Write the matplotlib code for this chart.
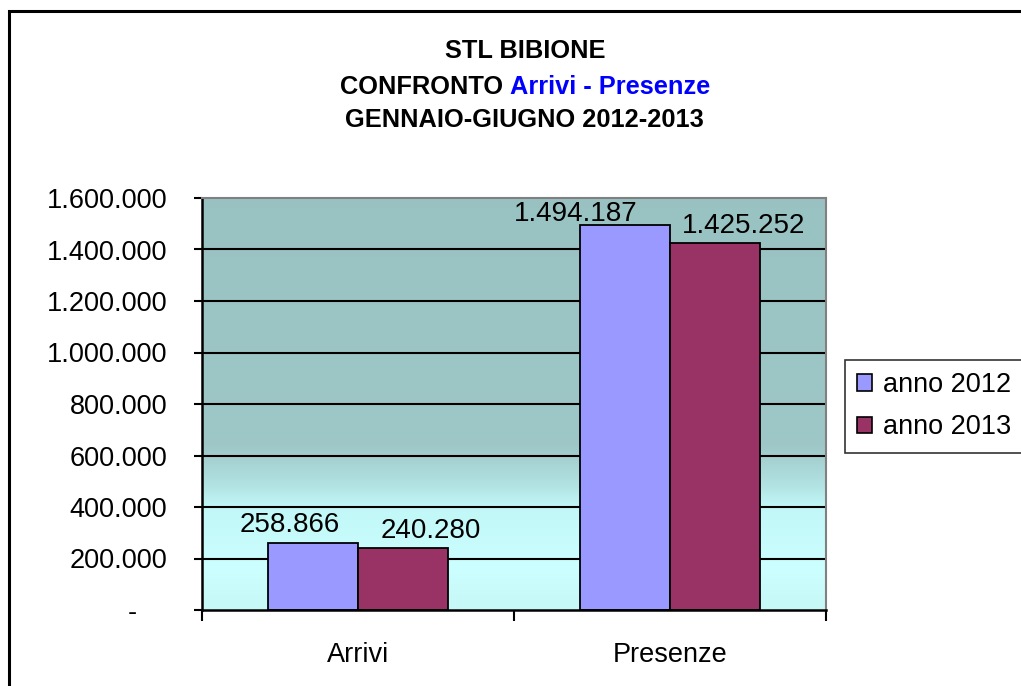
import matplotlib
matplotlib.use("Agg")
import matplotlib.pyplot as plt
import numpy as np
from matplotlib.patches import Rectangle
from matplotlib.colors import LinearSegmentedColormap
from matplotlib.ticker import FuncFormatter, FixedLocator

plt.rcParams['font.family'] = ['Liberation Sans', 'DejaVu Sans']

categories = ["Arrivi", "Presenze"]
series_names = ["anno 2012", "anno 2013"]
values_2012 = [258866, 1494187]
values_2013 = [240280, 1425252]
labels_2012 = ["258.866", "1.494.187"]
labels_2013 = ["240.280", "1.425.252"]
colors = ["#9999FF", "#993366"]

W, H = 1021, 686
FS = 19.5
DFS = 20
TFS = 18.3
fig = plt.figure(figsize=(W / 100, H / 100), dpi=100)
fig.patch.set_facecolor("white")

ax = fig.add_axes([202 / W, 1 - 610 / H, 624 / W, 412 / H])
ymax = 1600000
ax.set_xlim(-0.5, 1.5)
ax.set_ylim(0, ymax)

# gradient background
cmap = LinearSegmentedColormap.from_list("bg", [
    (0.0, (0.78, 0.97, 0.97)),
    (0.10, (0.80, 1.00, 1.00)),
    (0.25, (0.76, 0.97, 0.97)),
    (0.30, (0.70, 0.89, 0.89)),
    (0.40, (0.62, 0.78, 0.78)),
    (1.0, (0.60, 0.76, 0.76)),
])
grad = np.linspace(0, 1, 256).reshape(-1, 1)
ax.imshow(grad, aspect="auto", cmap=cmap, origin="lower",
          extent=(-0.5, 1.5, 0, ymax), zorder=0)

# gridlines
for yv in range(200000, 1600000, 200000):
    ax.axhline(yv, color="black", lw=1.5, zorder=1)

x = np.arange(len(categories))
bw = 0.288
ax.bar(x - bw / 2, values_2012, bw, color=colors[0], edgecolor="black",
       lw=1.3, label=series_names[0], zorder=2)
ax.bar(x + bw / 2, values_2013, bw, color=colors[1], edgecolor="black",
       lw=1.3, label=series_names[1], zorder=2)

# data labels (offsets mimic the reference placement)
offs_2012 = [(-23, 11), (-49, 4)]
offs_2013 = [(28, 10), (29, 10)]
for i in range(len(categories)):
    ax.annotate(labels_2012[i], (x[i] - bw / 2, values_2012[i]),
                xytext=offs_2012[i], textcoords="offset pixels",
                ha="center", va="baseline", fontsize=DFS, zorder=3)
    ax.annotate(labels_2013[i], (x[i] + bw / 2, values_2013[i]),
                xytext=offs_2013[i], textcoords="offset pixels",
                ha="center", va="baseline", fontsize=DFS, zorder=3)

# axes styling
for s in ["top", "right"]:
    ax.spines[s].set_color("#808080")
    ax.spines[s].set_linewidth(1.5)
for s in ["left", "bottom"]:
    ax.spines[s].set_color("black")
    ax.spines[s].set_linewidth(1.8)

yticks = list(range(0, 1600001, 200000))
ax.set_yticks(yticks)
ax.yaxis.set_major_formatter(FuncFormatter(
    lambda v, p: "-    " if v == 0 else f"{int(v):,}".replace(",", ".")))
ax.tick_params(axis="y", direction="out", length=6, width=1.5,
               labelsize=FS, pad=19)

ax.set_xticks(x)
ax.set_xticklabels(categories)
ax.tick_params(axis="x", which="major", length=0, labelsize=FS, pad=23)
ax.xaxis.set_minor_locator(FixedLocator([-0.5, 0.5, 1.5]))
ax.tick_params(axis="x", which="minor", direction="out", length=8, width=1.5)

# title
cx = 0.514
fig.text(cx, 1 - 50.5 / H, "STL BIBIONE", ha="center", va="center",
         fontsize=TFS, fontweight="bold")
fig.text(cx, 1 - 120 / H, "GENNAIO-GIUGNO 2012-2013", ha="center",
         va="center", fontsize=TFS, fontweight="bold")
renderer = fig.canvas.get_renderer()
t1 = fig.text(0, 0, "CONFRONTO ", fontsize=TFS, fontweight="bold")
t2 = fig.text(0, 0, "Arrivi - Presenze", fontsize=TFS, fontweight="bold",
              color="#0000FF")
w1 = t1.get_window_extent(renderer).width / W
w2 = t2.get_window_extent(renderer).width / W
start = cx - (w1 + w2) / 2
y2 = 1 - 87 / H
t1.set_position((start, y2)); t1.set_va("center")
t2.set_position((start + w1, y2)); t2.set_va("center")

# legend
leg = fig.legend(loc="upper left", bbox_to_anchor=(845 / W, 1 - 360 / H),
                 fontsize=FS, frameon=True, fancybox=False,
                 handlelength=0.55, handleheight=0.55, handletextpad=0.4,
                 borderpad=0.45, labelspacing=0.6, borderaxespad=0)
leg.get_frame().set_edgecolor("black")
leg.get_frame().set_linewidth(1.2)
for h in leg.legend_handles:
    h.set_edgecolor("black")
    h.set_linewidth(1.2)

# outer chart border (clipped on right/bottom like the reference)
fig.patches.append(Rectangle((9 / W, -0.2), 1.3, 1.2 - 11 / H,
                             transform=fig.transFigure, fill=False,
                             edgecolor="black", lw=2.2, clip_on=False))

fig.savefig("out.png", dpi=100)
